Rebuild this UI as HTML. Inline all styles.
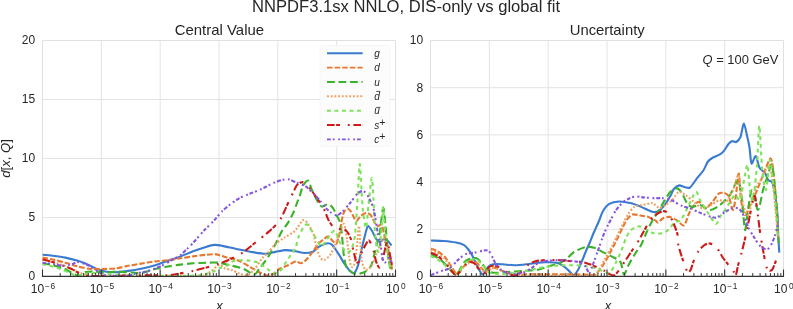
<!DOCTYPE html>
<html><head><meta charset="utf-8"><title>NNPDF3.1sx</title><style>
html,body{margin:0;padding:0;background:#fff;}
svg{display:block;}
text{font-family:"Liberation Sans",sans-serif;fill:#262626;}
.title{font-size:15.6px;}
.sub{font-size:14.4px;}
.tl{font-size:12px;}
.sup{font-size:8.3px;}
.lg{font-size:10px;font-style:italic;}
.lsup{font-size:10.5px;}
.ax{font-size:12.6px;font-style:italic;}
.axx{font-size:13px;font-style:italic;}
.grid{stroke:#e3e3e3;stroke-width:1;}
.spine{fill:none;stroke:#e0e0e0;stroke-width:1;}
.bspine{stroke:#333;stroke-width:1.15;}
.tick{stroke:#333;stroke-width:1.1;}
.mtick{stroke:#383838;stroke-width:1;}
</style></head><body>
<svg width="793" height="309" viewBox="0 0 793 309">
<defs>
<clipPath id="cl"><rect x="42.50" y="40.50" width="353.00" height="237.00"/></clipPath>
<clipPath id="cr"><rect x="430.50" y="40.50" width="353.00" height="237.00"/></clipPath>
</defs>
<rect width="793" height="309" fill="#fff"/>
<line x1="101.33" y1="40.50" x2="101.33" y2="276.50" class="grid"/>
<line x1="160.17" y1="40.50" x2="160.17" y2="276.50" class="grid"/>
<line x1="219.00" y1="40.50" x2="219.00" y2="276.50" class="grid"/>
<line x1="277.83" y1="40.50" x2="277.83" y2="276.50" class="grid"/>
<line x1="336.67" y1="40.50" x2="336.67" y2="276.50" class="grid"/>
<line x1="42.50" y1="217.50" x2="395.50" y2="217.50" class="grid"/>
<line x1="42.50" y1="158.50" x2="395.50" y2="158.50" class="grid"/>
<line x1="42.50" y1="99.50" x2="395.50" y2="99.50" class="grid"/>
<path d="M42.50,276.50 V40.50 H395.50 V276.50" class="spine"/>
<line x1="489.33" y1="40.50" x2="489.33" y2="276.50" class="grid"/>
<line x1="548.17" y1="40.50" x2="548.17" y2="276.50" class="grid"/>
<line x1="607.00" y1="40.50" x2="607.00" y2="276.50" class="grid"/>
<line x1="665.83" y1="40.50" x2="665.83" y2="276.50" class="grid"/>
<line x1="724.67" y1="40.50" x2="724.67" y2="276.50" class="grid"/>
<line x1="430.50" y1="229.30" x2="783.50" y2="229.30" class="grid"/>
<line x1="430.50" y1="182.10" x2="783.50" y2="182.10" class="grid"/>
<line x1="430.50" y1="134.90" x2="783.50" y2="134.90" class="grid"/>
<line x1="430.50" y1="87.70" x2="783.50" y2="87.70" class="grid"/>
<path d="M430.50,276.50 V40.50 H783.50 V276.50" class="spine"/>
<path d="M42.3,254.8 C43.7,254.9 49.5,255.3 52.6,255.7 C55.7,256.1 61.9,256.9 65.3,257.6 C68.7,258.3 74.9,259.9 77.9,260.8 C80.9,261.7 85.6,263.6 88.0,264.6 C90.4,265.6 93.6,267.6 95.6,268.4 C97.6,269.2 101.1,270.4 103.1,270.9 C105.1,271.4 108.7,271.9 110.7,272.1 C112.7,272.3 115.9,272.3 118.3,272.1 C120.7,271.9 125.5,271.3 128.4,270.9 C131.3,270.5 136.1,269.8 139.7,269.0 C143.3,268.2 151.5,266.3 155.3,265.2 C159.1,264.1 164.5,262.0 167.9,260.8 C171.3,259.6 177.1,257.7 180.5,256.4 C183.9,255.1 189.7,252.6 193.1,251.3 C196.5,250.0 202.9,247.8 205.8,246.9 C208.7,246.0 212.3,245.0 214.6,244.9 C216.9,244.8 220.3,245.5 223.4,246.1 C226.5,246.7 234.0,248.5 237.6,249.2 C241.2,249.9 246.6,251.1 250.3,251.7 C254.0,252.3 262.0,253.8 265.4,253.8 C268.8,253.8 272.8,252.4 275.5,251.9 C278.2,251.4 282.9,250.2 285.6,250.1 C288.3,250.0 293.2,250.9 295.7,251.3 C298.2,251.7 302.1,253.0 304.5,253.0 C306.9,253.0 311.6,252.1 313.4,251.4 C315.2,250.7 316.9,248.3 318.0,247.5 C319.1,246.7 320.7,245.7 322.0,245.1 C323.3,244.5 326.7,243.2 328.0,243.2 C329.3,243.2 330.7,243.5 332.0,244.8 C333.3,246.1 336.4,250.7 338.0,253.1 C339.6,255.5 342.5,260.7 344.1,263.1 C345.7,265.5 348.8,269.8 350.1,271.1 C351.4,272.4 353.0,273.9 354.1,273.1 C355.2,272.3 357.0,268.6 358.1,265.1 C359.2,261.6 361.0,251.6 362.1,247.1 C363.2,242.6 365.3,233.8 366.1,231.0 C366.9,228.2 367.3,226.0 368.1,226.0 C368.9,226.0 371.0,229.3 372.1,231.0 C373.2,232.7 375.0,237.5 376.1,239.0 C377.2,240.5 379.1,241.9 380.1,241.9 C381.1,241.9 382.5,239.3 383.5,239.2 C384.5,239.1 386.8,240.2 387.9,241.0 C389.0,241.8 391.0,244.9 391.5,245.5" fill="none" stroke="#3a7bd0" stroke-width="2.1" stroke-linejoin="round" clip-path="url(#cl)"/>
<path d="M42.3,257.6 C43.7,257.9 49.5,258.8 52.6,259.5 C55.7,260.2 61.9,261.8 65.3,262.7 C68.7,263.6 74.5,265.7 77.9,266.5 C81.3,267.3 87.1,268.7 90.5,269.0 C93.9,269.3 99.7,269.1 103.1,269.0 C106.5,268.9 112.4,268.8 115.8,268.4 C119.2,268.0 125.2,266.4 128.4,265.8 C131.6,265.2 136.1,264.5 139.7,263.9 C143.3,263.3 151.5,261.9 155.3,261.4 C159.1,260.9 164.5,260.6 167.9,260.2 C171.3,259.8 177.1,258.8 180.5,258.3 C183.9,257.8 189.7,256.9 193.1,256.4 C196.5,255.9 202.7,255.1 205.8,254.8 C208.9,254.5 213.4,254.1 216.0,254.4 C218.6,254.7 222.1,256.2 225.0,257.0 C227.9,257.8 234.2,258.9 237.6,260.2 C241.0,261.5 247.3,265.4 250.3,267.1 C253.3,268.8 258.2,271.7 260.4,272.8 C262.6,273.9 265.0,275.1 266.7,275.3 C268.4,275.5 271.3,274.8 273.0,274.0 C274.7,273.2 277.3,270.2 279.3,269.0 C281.3,267.8 285.9,266.2 288.1,265.2 C290.3,264.2 294.0,261.7 295.7,261.4 C297.4,261.1 299.5,263.5 300.8,263.3 C302.1,263.1 304.3,261.6 305.8,260.2 C307.3,258.8 310.4,254.8 312.1,252.6 C313.8,250.4 317.0,245.4 318.5,243.7 C320.0,242.0 322.0,240.6 323.3,239.6 C324.6,238.6 326.9,236.2 328.2,236.4 C329.5,236.6 331.9,240.3 333.0,241.3 C334.1,242.3 335.4,244.7 336.3,243.7 C337.2,242.7 338.9,236.6 339.5,234.0 C340.1,231.4 340.7,226.7 341.1,224.3 C341.5,221.9 342.3,217.9 342.7,216.2 C343.1,214.5 343.7,212.3 344.4,211.3 C345.1,210.3 346.7,208.9 347.6,208.9 C348.5,208.9 349.9,210.1 350.8,211.3 C351.7,212.5 353.3,216.5 354.1,217.8 C354.9,219.1 355.6,221.2 356.5,221.0 C357.4,220.8 359.2,217.3 360.5,216.2 C361.8,215.1 364.6,213.1 366.0,213.0 C367.4,212.9 369.5,213.7 370.8,215.2 C372.1,216.7 374.4,222.6 375.4,224.0 C376.4,225.4 377.7,225.9 378.5,226.0 C379.3,226.1 380.8,223.4 381.7,225.0 C382.6,226.6 384.1,234.4 385.0,238.0 C385.9,241.6 387.8,247.3 388.8,251.7 C389.8,256.1 391.9,268.7 392.4,271.3" fill="none" stroke="#e6772e" stroke-width="2.1" stroke-dasharray="5.6 2" stroke-linejoin="round" clip-path="url(#cl)"/>
<path d="M42.3,263.3 C43.7,263.6 50.2,264.7 52.6,265.2 C55.0,265.7 58.5,266.6 60.2,267.1 C61.9,267.6 63.8,268.2 65.3,269.0 C66.8,269.8 70.1,272.0 71.6,272.8 C73.1,273.6 75.5,274.9 76.6,275.3 C77.7,275.7 78.8,276.2 80.0,275.8 C81.2,275.4 83.8,272.7 85.5,272.1 C87.2,271.5 91.2,271.5 93.0,271.5 C94.8,271.5 97.3,272.0 99.3,272.1 C101.3,272.2 105.8,272.6 108.0,272.5 C110.2,272.4 113.8,271.6 115.8,271.5 C117.8,271.4 121.1,272.0 123.3,272.1 C125.5,272.2 129.4,272.4 132.0,272.5 C134.6,272.6 139.5,273.3 142.6,272.8 C145.7,272.3 151.9,269.8 155.3,269.0 C158.7,268.2 164.5,267.1 167.9,266.5 C171.3,265.9 177.1,265.0 180.5,264.6 C183.9,264.2 189.7,263.6 193.1,263.3 C196.5,263.0 202.4,262.8 205.8,262.7 C209.2,262.6 215.2,262.4 218.4,262.7 C221.6,263.0 226.3,264.4 229.7,265.2 C233.1,266.0 240.7,267.7 243.9,269.0 C247.1,270.3 252.0,274.7 254.0,274.7 C256.0,274.7 257.8,270.6 259.1,269.0 C260.4,267.4 262.8,264.6 264.1,262.7 C265.4,260.8 267.7,257.6 269.2,255.1 C270.7,252.6 273.8,247.2 275.5,244.0 C277.2,240.8 280.1,234.3 281.8,231.4 C283.5,228.5 286.6,225.1 288.1,222.6 C289.6,220.1 292.0,215.6 293.2,213.0 C294.4,210.4 296.1,205.4 297.0,203.0 C297.9,200.6 299.2,197.7 300.0,195.3 C300.8,192.9 302.1,187.1 303.2,185.2 C304.3,183.3 307.0,180.0 308.2,180.7 C309.4,181.4 310.7,187.3 312.0,190.2 C313.3,193.1 317.0,200.6 318.3,202.8 C319.6,205.0 320.8,206.4 322.1,206.6 C323.4,206.8 326.9,203.9 328.4,204.1 C329.9,204.3 331.9,206.7 333.0,208.1 C334.1,209.5 335.4,212.9 336.3,214.6 C337.2,216.3 338.9,219.2 339.5,221.0 C340.1,222.8 340.8,226.4 341.1,228.3 C341.4,230.2 341.8,233.5 342.0,235.6 C342.2,237.7 342.5,241.1 342.7,243.7 C342.9,246.3 343.4,252.0 343.8,255.0 C344.2,258.0 345.2,263.9 346.0,266.0 C346.8,268.1 348.7,269.9 350.0,271.0 C351.3,272.1 354.4,273.7 356.0,274.0 C357.6,274.3 360.7,273.4 362.0,273.0 C363.3,272.6 364.5,272.2 365.7,271.3 C366.9,270.4 369.8,268.3 371.0,265.9 C372.2,263.5 373.8,256.6 374.6,253.5 C375.4,250.4 376.5,245.7 377.2,242.8 C377.9,239.9 379.3,235.8 379.9,232.1 C380.5,228.4 381.5,218.1 382.0,215.0 C382.5,211.9 383.0,207.2 383.5,208.5 C384.0,209.8 384.8,218.1 385.5,225.0 C386.2,231.9 388.0,254.4 388.8,260.6 C389.6,266.8 391.1,269.9 391.5,271.3" fill="none" stroke="#3ab22a" stroke-width="2.1" stroke-dasharray="7.8 3.7" stroke-linejoin="round" clip-path="url(#cl)"/>
<path d="M42.3,259.5 C43.7,259.8 49.5,261.1 52.6,262.0 C55.7,262.9 62.3,264.9 65.3,266.0 C68.3,267.1 72.4,269.4 75.0,270.5 C77.6,271.6 82.3,273.8 85.0,274.5 C87.7,275.2 86.3,275.8 95.0,276.0 C103.7,276.2 136.0,276.2 150.0,276.2 C164.0,276.2 192.0,276.6 200.0,276.0 C208.0,275.4 207.5,273.5 210.0,272.0 C212.5,270.5 216.9,265.6 218.9,265.1 C220.9,264.6 223.2,267.7 225.0,268.4 C226.8,269.1 230.6,269.6 232.6,270.3 C234.6,271.0 238.2,273.3 240.2,274.0 C242.2,274.7 245.7,276.0 247.7,275.3 C249.7,274.6 253.4,270.6 255.3,268.4 C257.2,266.2 259.9,261.0 261.6,258.9 C263.3,256.8 266.0,254.6 267.9,252.6 C269.8,250.6 273.3,246.0 275.5,244.0 C277.7,242.0 281.8,239.4 284.3,237.7 C286.8,236.0 292.2,233.4 294.4,231.4 C296.6,229.4 299.6,224.1 300.8,222.6 C302.0,221.1 302.5,220.1 303.3,220.1 C304.1,220.1 305.8,220.8 307.1,222.6 C308.4,224.4 312.2,230.9 313.4,233.9 C314.6,236.9 315.1,241.9 316.0,245.0 C316.9,248.1 318.9,255.1 320.0,257.1 C321.1,259.1 322.7,260.4 324.0,260.1 C325.3,259.8 328.5,257.1 330.0,255.1 C331.5,253.1 333.7,248.1 335.0,245.0 C336.3,241.9 338.8,234.8 340.0,232.0 C341.2,229.2 343.1,222.9 344.0,224.0 C344.9,225.1 346.2,234.9 347.0,240.0 C347.8,245.1 349.3,258.4 350.0,262.0 C350.7,265.6 351.4,267.1 352.1,267.1 C352.8,267.1 354.3,265.6 355.0,262.0 C355.7,258.4 357.0,244.8 357.5,240.0 C358.0,235.2 358.6,225.3 359.0,226.0 C359.4,226.7 360.1,240.2 360.5,245.0 C360.9,249.8 361.3,258.7 362.0,262.0 C362.7,265.3 364.7,269.6 366.0,270.0 C367.3,270.4 370.4,267.7 372.0,265.0 C373.6,262.3 376.5,253.6 378.0,250.0 C379.5,246.4 381.8,238.0 383.0,238.0 C384.2,238.0 385.9,246.4 387.0,250.0 C388.1,253.6 390.5,263.0 391.0,265.0" fill="none" stroke="#efa160" stroke-width="2.1" stroke-dasharray="1.9 1.8" stroke-linejoin="round" clip-path="url(#cl)"/>
<path d="M42.3,264.3 C43.7,264.6 50.0,265.8 52.6,266.5 C55.2,267.2 59.7,268.6 62.0,269.5 C64.3,270.4 68.1,272.2 70.0,273.0 C71.9,273.8 74.0,275.4 76.0,275.5 C78.0,275.6 82.5,274.3 85.0,274.0 C87.5,273.7 92.3,273.0 95.0,273.0 C97.7,273.0 101.7,273.7 105.0,274.0 C108.3,274.3 115.3,274.8 120.0,275.0 C124.7,275.2 134.7,275.4 140.0,275.5 C145.3,275.6 154.0,275.8 160.0,275.8 C166.0,275.8 179.7,275.9 185.0,275.8 C190.3,275.7 197.2,275.5 200.0,275.3 C202.8,275.1 204.0,274.5 205.8,274.0 C207.6,273.5 211.3,272.3 213.3,271.5 C215.3,270.7 218.7,268.6 220.9,267.7 C223.1,266.8 228.1,265.4 229.7,264.6 C231.3,263.8 231.0,262.0 232.6,261.4 C234.2,260.8 239.0,260.3 241.4,260.2 C243.8,260.1 248.1,260.5 250.3,260.8 C252.5,261.1 256.0,261.9 257.8,262.7 C259.6,263.5 262.6,265.5 264.1,266.5 C265.6,267.5 267.9,269.4 269.2,270.3 C270.5,271.2 273.0,273.2 274.2,273.4 C275.4,273.6 277.0,272.7 278.0,272.1 C279.0,271.5 280.8,270.3 281.8,269.0 C282.8,267.7 284.4,264.6 285.6,262.7 C286.8,260.8 289.4,257.1 290.7,255.1 C292.0,253.1 294.7,249.8 295.7,247.5 C296.7,245.2 297.2,240.4 298.2,237.7 C299.2,235.0 302.1,229.4 303.3,227.6 C304.5,225.8 305.9,224.0 307.1,224.5 C308.3,225.0 310.6,229.0 312.1,231.4 C313.6,233.8 317.1,240.9 318.4,242.8 C319.7,244.7 320.7,246.6 322.0,246.0 C323.3,245.4 326.3,240.0 328.0,238.0 C329.7,236.0 333.1,230.0 334.7,230.7 C336.3,231.4 338.5,240.2 340.0,243.0 C341.5,245.8 344.5,251.1 346.0,252.0 C347.5,252.9 349.8,252.3 351.0,250.0 C352.2,247.7 354.1,242.3 355.0,235.0 C355.9,227.7 357.2,204.5 357.8,195.0 C358.4,185.5 359.2,164.7 359.7,164.0 C360.2,163.3 361.1,183.7 361.5,190.0 C361.9,196.3 362.4,205.9 363.0,211.0 C363.6,216.1 365.3,228.8 366.0,228.0 C366.7,227.2 367.7,211.7 368.5,205.0 C369.3,198.3 371.0,178.7 371.7,178.0 C372.4,177.3 373.1,192.8 373.5,200.0 C373.9,207.2 374.4,225.1 375.0,232.0 C375.6,238.9 377.2,251.6 378.0,252.0 C378.8,252.4 380.3,241.0 381.0,235.0 C381.7,229.0 382.6,207.7 383.1,207.0 C383.6,206.3 384.3,223.2 385.0,230.0 C385.7,236.8 387.1,252.7 388.0,258.0 C388.9,263.3 391.0,268.4 391.5,270.0" fill="none" stroke="#7ee35a" stroke-width="2.1" stroke-dasharray="3.9 3.6" stroke-linejoin="round" clip-path="url(#cl)"/>
<path d="M42.3,259.5 C43.7,259.8 49.5,261.1 52.6,262.0 C55.7,262.9 62.6,265.5 65.3,266.5 C68.0,267.5 71.1,268.8 72.8,269.6 C74.5,270.4 76.7,272.0 77.9,272.8 C79.1,273.6 80.1,274.9 81.7,275.3 C83.3,275.7 87.6,275.9 90.0,276.0 C92.4,276.1 94.7,276.1 100.0,276.0 C105.3,275.9 123.5,275.6 130.0,275.5 C136.5,275.4 143.8,275.3 148.9,275.3 C154.0,275.3 163.7,275.6 167.9,275.3 C172.1,275.0 177.1,274.0 180.5,273.4 C183.9,272.8 189.7,271.7 193.1,270.9 C196.5,270.1 202.4,268.6 205.8,267.7 C209.2,266.8 215.2,265.0 218.4,263.9 C221.6,262.8 226.5,261.0 229.7,259.5 C232.9,258.0 239.1,255.0 242.7,252.6 C246.3,250.2 253.1,244.3 256.6,241.5 C260.1,238.7 266.3,233.9 269.2,231.4 C272.1,228.9 276.2,224.8 278.0,222.6 C279.8,220.4 281.1,218.2 282.6,215.2 C284.1,212.2 287.9,203.3 289.3,200.3 C290.7,197.3 292.1,194.7 293.1,192.7 C294.1,190.7 295.9,186.5 296.9,185.2 C297.9,183.9 299.7,182.9 300.7,182.6 C301.7,182.3 303.1,181.7 304.4,182.6 C305.7,183.5 309.3,187.7 310.8,189.6 C312.3,191.5 314.5,194.6 315.8,196.5 C317.1,198.4 319.7,202.1 320.9,204.1 C322.1,206.1 324.0,209.3 325.0,211.3 C326.0,213.3 327.1,217.3 328.2,219.4 C329.3,221.5 331.7,225.4 333.0,226.7 C334.3,228.0 336.5,228.7 338.0,229.0 C339.5,229.3 343.1,228.6 344.4,229.1 C345.7,229.6 346.7,231.1 347.6,232.4 C348.5,233.7 350.1,236.9 350.8,238.8 C351.5,240.7 351.8,243.9 352.5,246.9 C353.2,249.9 355.3,259.1 356.1,261.1 C356.9,263.1 357.7,263.2 358.5,262.0 C359.3,260.8 361.0,254.3 362.0,252.0 C363.0,249.7 364.8,246.1 365.7,244.6 C366.6,243.1 368.1,240.0 369.0,240.5 C369.9,241.0 371.8,245.2 372.8,248.1 C373.8,251.0 375.5,259.8 376.4,262.4 C377.3,265.0 379.0,268.3 379.9,267.7 C380.8,267.1 382.2,261.1 383.0,258.0 C383.8,254.9 385.5,246.9 386.1,244.6 C386.7,242.3 387.0,239.6 387.5,241.0 C388.0,242.4 389.3,251.4 390.0,255.0 C390.7,258.6 392.2,266.3 392.5,268.0" fill="none" stroke="#cc1a1a" stroke-width="2.1" stroke-dasharray="7.6 1.5 3.9 7.8 1.9 3.7" stroke-linejoin="round" clip-path="url(#cl)"/>
<path d="M42.3,262.7 C43.7,262.9 49.9,263.5 52.6,263.9 C55.3,264.3 60.0,265.8 62.7,265.8 C65.4,265.8 70.8,264.4 72.8,263.9 C74.8,263.4 75.9,261.8 77.9,262.0 C79.9,262.2 85.8,264.3 88.0,265.2 C90.2,266.1 92.6,268.0 94.3,269.0 C96.0,270.0 99.1,272.0 100.6,272.8 C102.1,273.6 103.8,274.9 105.7,275.3 C107.6,275.7 112.0,275.9 115.0,276.0 C118.0,276.1 125.2,276.1 128.0,275.8 C130.8,275.5 133.9,273.9 136.0,273.4 C138.1,272.9 141.8,272.5 144.0,272.0 C146.2,271.5 150.2,270.3 152.5,269.5 C154.8,268.7 159.0,267.0 161.6,265.8 C164.2,264.6 169.2,261.6 171.7,260.2 C174.2,258.8 178.5,256.6 180.5,255.1 C182.5,253.6 185.3,250.6 187.0,249.0 C188.7,247.4 190.8,245.4 193.0,243.0 C195.2,240.6 200.9,233.9 203.7,230.9 C206.5,227.9 211.9,222.8 214.3,220.2 C216.7,217.6 219.7,213.6 221.9,211.4 C224.1,209.2 228.6,205.6 231.0,203.8 C233.4,202.0 237.8,199.0 240.2,197.7 C242.6,196.4 246.6,195.0 249.3,193.9 C252.0,192.8 257.2,191.0 260.3,189.6 C263.4,188.2 269.9,184.6 272.9,183.3 C275.9,182.0 280.8,180.3 283.0,179.8 C285.2,179.3 287.3,179.0 289.3,179.5 C291.3,180.0 295.9,182.4 298.1,183.3 C300.3,184.2 303.7,185.1 305.7,186.4 C307.7,187.7 311.3,191.4 313.3,193.4 C315.3,195.4 319.2,199.6 320.9,201.6 C322.6,203.6 324.6,206.6 326.0,208.1 C327.4,209.6 329.9,211.9 331.4,212.9 C332.9,213.9 335.6,215.6 337.1,215.4 C338.6,215.2 341.0,212.9 342.7,211.3 C344.4,209.7 348.1,205.4 350.0,203.1 C351.9,200.8 355.5,195.7 357.1,194.1 C358.7,192.5 360.9,191.2 362.1,191.1 C363.3,191.0 365.0,191.9 366.1,193.1 C367.2,194.3 369.0,197.7 370.1,200.1 C371.2,202.5 373.0,206.4 374.1,211.1 C375.2,215.8 377.2,230.3 378.1,235.0 C379.0,239.7 380.2,243.2 380.8,246.4 C381.4,249.6 382.0,256.7 382.6,258.8 C383.2,260.9 384.4,262.5 385.2,262.4 C386.0,262.3 388.0,258.0 388.8,257.9 C389.6,257.8 391.1,261.5 391.5,262.0" fill="none" stroke="#8455e0" stroke-width="2.1" stroke-dasharray="3.8 1.9 1.9 3.6 1.9 1.9" stroke-linejoin="round" clip-path="url(#cl)"/>
<path d="M430.8,240.5 C432.5,240.6 440.1,240.7 443.5,241.0 C446.9,241.3 453.3,242.0 456.0,242.5 C458.7,243.0 462.0,244.0 463.7,244.9 C465.4,245.8 467.3,248.1 468.4,249.5 C469.5,250.9 471.3,253.8 472.3,255.7 C473.3,257.6 475.1,261.4 476.1,263.5 C477.1,265.6 479.2,269.8 480.0,271.3 C480.8,272.8 481.6,274.4 482.3,274.4 C483.0,274.4 484.7,272.3 485.5,271.3 C486.3,270.3 487.6,267.5 488.6,266.6 C489.6,265.7 491.3,264.6 493.2,264.3 C495.1,264.0 499.6,264.2 502.5,264.3 C505.4,264.4 511.3,265.3 515.0,265.2 C518.7,265.1 526.3,264.2 530.4,263.8 C534.5,263.4 541.9,262.4 545.6,262.3 C549.3,262.2 555.2,262.3 557.8,263.0 C560.4,263.7 563.8,266.4 565.4,267.6 C567.0,268.8 568.9,271.0 570.0,272.0 C571.1,273.0 572.5,275.3 573.6,275.0 C574.7,274.7 576.9,271.9 578.0,270.0 C579.1,268.1 580.9,263.5 582.0,261.0 C583.1,258.5 584.9,253.5 586.0,251.0 C587.1,248.5 588.9,244.7 590.0,242.0 C591.1,239.3 593.2,233.9 594.5,231.0 C595.8,228.1 598.3,222.6 599.4,220.0 C600.5,217.4 601.6,213.3 602.9,211.2 C604.2,209.1 607.1,205.2 609.3,203.9 C611.5,202.6 616.3,201.6 619.1,201.5 C621.9,201.4 627.4,202.4 630.4,203.1 C633.4,203.8 638.7,205.9 641.7,207.1 C644.7,208.3 650.7,211.6 653.1,212.0 C655.5,212.4 657.8,211.6 659.5,210.4 C661.2,209.2 664.5,205.2 666.0,203.1 C667.5,201.0 669.8,196.9 670.9,195.0 C672.0,193.1 672.9,190.0 674.0,188.7 C675.1,187.4 677.8,185.6 679.2,185.4 C680.6,185.2 682.9,186.7 684.3,187.0 C685.7,187.3 688.3,188.6 690.0,187.5 C691.7,186.4 694.9,180.9 696.7,178.6 C698.5,176.3 702.0,172.5 703.5,170.2 C705.0,167.9 706.7,163.2 708.0,161.5 C709.3,159.8 711.5,158.4 713.0,157.5 C714.5,156.6 718.1,155.4 719.5,154.6 C720.9,153.8 722.5,152.7 723.7,151.2 C724.9,149.7 727.6,145.0 728.7,143.7 C729.8,142.4 731.1,141.3 732.1,141.1 C733.1,140.9 735.2,142.6 736.3,142.0 C737.4,141.4 739.5,139.4 740.5,136.9 C741.5,134.4 743.0,123.3 743.9,123.5 C744.8,123.7 746.8,135.0 747.6,138.3 C748.4,141.6 749.1,144.6 749.6,148.0 C750.1,151.4 750.7,162.4 751.5,163.5 C752.3,164.6 754.6,155.5 755.7,156.0 C756.8,156.5 758.1,165.1 759.4,167.4 C760.7,169.7 764.0,171.6 765.2,173.3 C766.4,175.0 767.2,178.8 768.1,180.0 C769.0,181.2 771.2,180.8 772.0,182.0 C772.8,183.2 773.4,186.3 773.9,188.8 C774.4,191.3 775.4,196.9 775.9,200.4 C776.4,203.9 777.2,210.4 777.5,215.0 C777.8,219.6 778.0,230.0 778.2,235.0 C778.4,240.0 779.2,250.3 779.3,252.6" fill="none" stroke="#3a7bd0" stroke-width="2.1" stroke-linejoin="round" clip-path="url(#cr)"/>
<path d="M430.8,248.8 C431.7,249.1 435.4,250.0 437.3,251.1 C439.2,252.2 443.2,255.2 445.1,257.3 C447.0,259.4 449.8,264.4 451.3,266.6 C452.8,268.8 455.0,272.8 456.0,273.6 C457.0,274.4 458.0,273.7 459.0,272.8 C460.0,271.9 462.4,268.0 463.7,266.6 C465.0,265.2 467.2,262.7 468.4,262.0 C469.6,261.3 471.8,261.0 473.0,261.2 C474.2,261.4 476.5,262.5 477.7,263.5 C478.9,264.5 481.3,267.8 482.3,268.9 C483.3,270.0 484.5,272.0 485.5,272.0 C486.5,272.0 488.8,269.4 490.1,268.9 C491.4,268.4 493.0,267.6 495.0,268.0 C497.0,268.4 502.3,271.1 505.0,272.0 C507.7,272.9 511.7,274.2 515.0,274.5 C518.3,274.8 524.0,274.3 530.0,274.3 C536.0,274.3 552.7,274.3 560.0,274.3 C567.3,274.3 581.0,274.4 585.0,274.5 C589.0,274.6 588.5,275.3 590.0,275.2 C591.5,275.1 594.2,275.4 596.0,274.0 C597.8,272.6 601.3,267.8 603.3,264.7 C605.3,261.6 608.9,255.0 611.0,251.1 C613.1,247.2 617.3,238.6 618.8,235.5 C620.3,232.4 621.5,230.1 622.5,228.0 C623.5,225.9 625.3,221.8 626.6,220.0 C627.9,218.2 630.8,215.1 632.6,214.5 C634.4,213.9 638.0,215.1 640.1,215.4 C642.2,215.7 646.5,216.3 648.5,217.0 C650.5,217.7 654.0,219.7 655.3,220.4 C656.6,221.1 656.9,222.8 657.9,222.5 C658.9,222.2 661.3,219.2 662.8,218.5 C664.3,217.8 667.4,216.6 669.3,216.9 C671.2,217.2 675.2,219.3 677.1,220.4 C679.0,221.5 682.3,226.4 683.9,225.5 C685.5,224.6 687.6,216.4 688.9,213.7 C690.2,211.0 692.7,206.9 694.0,205.3 C695.3,203.7 697.4,201.6 699.0,201.9 C700.6,202.2 704.0,207.8 705.8,207.8 C707.6,207.8 710.8,203.8 712.5,201.9 C714.2,200.0 717.1,194.9 718.6,193.7 C720.1,192.5 722.4,192.6 723.7,192.9 C725.0,193.2 727.5,193.9 728.7,196.2 C729.9,198.5 732.0,210.2 733.0,210.0 C734.0,209.8 735.2,199.9 736.0,195.0 C736.8,190.1 738.1,172.8 738.8,173.5 C739.5,174.2 740.2,194.5 741.0,200.0 C741.8,205.5 743.8,214.3 745.0,215.0 C746.2,215.7 748.7,207.7 750.0,205.0 C751.3,202.3 753.3,198.7 755.0,195.0 C756.7,191.3 760.3,181.8 762.4,176.9 C764.5,172.0 769.2,157.9 770.8,158.4 C772.4,158.9 773.5,174.8 774.2,180.3 C774.9,185.8 775.6,194.0 776.0,200.0 C776.4,206.0 777.2,219.7 777.5,225.0 C777.8,230.3 778.2,238.0 778.3,240.0" fill="none" stroke="#e6772e" stroke-width="2.1" stroke-dasharray="5.6 2" stroke-linejoin="round" clip-path="url(#cr)"/>
<path d="M430.8,254.2 C432.1,254.9 438.1,257.8 440.4,259.6 C442.7,261.4 446.3,265.5 448.2,267.4 C450.1,269.3 453.0,273.1 454.4,273.6 C455.8,274.1 457.8,272.8 459.0,271.3 C460.2,269.8 462.2,264.4 463.7,262.7 C465.2,261.0 468.2,259.4 469.9,258.8 C471.6,258.2 474.6,257.7 476.1,258.1 C477.6,258.5 479.5,260.7 480.8,262.0 C482.1,263.3 484.3,266.9 485.5,268.2 C486.7,269.5 488.7,271.4 490.1,272.0 C491.5,272.6 494.2,272.8 496.3,272.8 C498.4,272.8 503.1,272.2 505.6,272.0 C508.1,271.8 511.7,271.7 515.0,271.5 C518.3,271.3 526.9,270.7 530.0,270.5 C533.1,270.3 536.0,270.2 538.0,269.8 C540.0,269.4 543.1,268.1 545.0,267.5 C546.9,266.9 550.5,265.8 552.5,265.2 C554.5,264.6 558.1,263.9 560.0,263.0 C561.9,262.1 565.1,260.0 567.0,258.5 C568.9,257.0 571.6,253.5 574.0,252.0 C576.4,250.5 582.5,247.7 585.2,247.1 C587.9,246.5 591.9,247.1 594.3,247.8 C596.7,248.5 601.0,251.2 603.4,252.4 C605.8,253.6 610.8,256.0 612.5,256.9 C614.2,257.8 615.1,258.0 616.2,258.8 C617.3,259.6 619.9,260.6 620.9,262.7 C621.9,264.8 623.0,274.1 624.0,274.4 C625.0,274.7 627.2,267.8 628.6,265.1 C630.0,262.4 633.1,256.9 634.8,254.2 C636.5,251.5 639.5,247.8 641.1,244.9 C642.7,242.0 645.0,235.6 646.6,232.2 C648.2,228.8 651.4,222.3 653.1,219.3 C654.8,216.3 658.1,211.9 659.5,209.6 C660.9,207.3 662.2,204.3 663.7,201.9 C665.2,199.5 668.6,193.6 670.4,191.8 C672.2,190.0 675.5,188.2 677.1,188.4 C678.7,188.6 680.9,191.5 682.2,193.5 C683.5,195.5 685.9,201.8 687.2,203.6 C688.5,205.4 690.6,206.7 692.3,206.9 C694.0,207.1 697.6,204.6 700.0,205.0 C702.4,205.4 707.3,210.0 710.0,210.0 C712.7,210.0 717.3,207.0 720.0,205.0 C722.7,203.0 727.6,198.3 730.0,195.0 C732.4,191.7 736.4,179.3 738.0,180.0 C739.6,180.7 741.1,193.3 742.0,200.0 C742.9,206.7 744.2,228.7 745.0,230.0 C745.8,231.3 747.1,215.3 748.0,210.0 C748.9,204.7 750.7,190.0 752.0,190.0 C753.3,190.0 756.5,210.0 758.0,210.0 C759.5,210.0 761.7,194.7 763.0,190.0 C764.3,185.3 766.8,178.3 768.0,175.0 C769.2,171.7 770.9,161.7 772.0,165.0 C773.1,168.3 775.2,190.5 776.0,200.0 C776.8,209.5 777.8,230.3 778.2,236.0 C778.6,241.7 778.7,242.1 778.8,243.0" fill="none" stroke="#3ab22a" stroke-width="2.1" stroke-dasharray="7.8 3.7" stroke-linejoin="round" clip-path="url(#cr)"/>
<path d="M430.8,250.0 C431.6,250.4 435.1,251.8 437.0,253.0 C438.9,254.2 443.1,257.0 445.0,259.0 C446.9,261.0 449.7,266.0 451.0,268.0 C452.3,270.0 453.9,273.5 455.0,274.0 C456.1,274.5 457.8,273.1 459.0,272.0 C460.2,270.9 462.7,267.2 464.0,266.0 C465.3,264.8 467.7,263.4 469.0,263.0 C470.3,262.6 472.7,262.6 474.0,263.0 C475.3,263.4 477.7,264.8 479.0,266.0 C480.3,267.2 482.7,271.5 484.0,272.0 C485.3,272.5 487.5,270.5 489.0,270.0 C490.5,269.5 492.9,267.7 495.0,268.0 C497.1,268.3 501.7,271.0 505.0,272.0 C508.3,273.0 512.7,275.0 520.0,275.5 C527.3,276.0 550.4,276.0 560.0,276.0 C569.6,276.0 586.9,276.4 592.0,275.8 C597.1,275.2 596.3,273.8 598.0,271.5 C599.7,269.2 603.1,262.3 605.0,258.8 C606.9,255.3 610.5,249.0 612.5,245.2 C614.5,241.4 618.5,233.1 620.0,230.0 C621.5,226.9 622.9,224.2 624.0,222.0 C625.1,219.8 627.1,215.5 628.5,213.5 C629.9,211.5 632.8,208.0 634.3,206.9 C635.8,205.8 638.0,205.7 640.1,205.3 C642.2,204.9 648.5,203.9 650.2,203.6 C651.9,203.3 651.9,202.5 653.1,203.1 C654.3,203.7 657.8,207.8 659.5,208.0 C661.2,208.2 664.3,205.8 666.0,204.7 C667.7,203.6 670.8,201.6 672.5,199.9 C674.2,198.2 677.1,192.4 678.8,191.8 C680.5,191.2 683.6,193.9 685.6,195.2 C687.6,196.5 691.8,200.1 694.0,201.9 C696.2,203.7 700.2,208.1 702.4,208.6 C704.6,209.1 708.6,206.4 710.8,205.3 C713.0,204.2 717.2,200.7 719.2,200.2 C721.2,199.7 724.2,203.3 726.0,201.9 C727.8,200.5 731.3,193.6 733.0,190.0 C734.7,186.4 737.3,173.7 738.5,175.0 C739.7,176.3 740.7,194.7 742.0,200.0 C743.3,205.3 746.3,216.3 748.0,215.0 C749.7,213.7 753.1,194.9 755.0,190.0 C756.9,185.1 760.1,181.3 762.0,178.0 C763.9,174.7 767.5,164.1 769.0,165.0 C770.5,165.9 772.1,178.3 773.0,185.0 C773.9,191.7 775.3,207.9 776.0,215.0 C776.7,222.1 777.7,234.9 778.0,238.0" fill="none" stroke="#efa160" stroke-width="2.1" stroke-dasharray="1.9 1.8" stroke-linejoin="round" clip-path="url(#cr)"/>
<path d="M430.8,256.0 C432.0,256.7 437.7,259.4 440.0,261.0 C442.3,262.6 446.1,266.3 448.0,268.0 C449.9,269.7 452.5,273.5 454.0,274.0 C455.5,274.5 457.7,273.3 459.0,272.0 C460.3,270.7 462.5,265.6 464.0,264.0 C465.5,262.4 468.4,260.6 470.0,260.0 C471.6,259.4 474.5,259.1 476.0,259.5 C477.5,259.9 479.7,261.7 481.0,263.0 C482.3,264.3 484.8,267.7 486.0,269.0 C487.2,270.3 488.1,272.3 490.0,273.0 C491.9,273.7 496.7,274.0 500.0,274.0 C503.3,274.0 511.0,273.5 515.0,273.0 C519.0,272.5 525.9,270.8 530.0,270.0 C534.1,269.2 541.5,267.4 545.6,266.8 C549.7,266.2 556.7,265.5 560.8,265.3 C564.9,265.1 572.7,265.2 576.0,265.3 C579.3,265.4 582.7,265.7 585.2,266.1 C587.7,266.5 592.4,267.2 595.0,268.0 C597.6,268.8 603.0,271.4 605.0,272.0 C607.0,272.6 608.5,274.1 610.0,272.8 C611.5,271.5 614.5,265.3 616.2,262.0 C617.9,258.7 621.1,251.2 622.4,248.0 C623.7,244.8 624.9,240.3 626.0,238.0 C627.1,235.7 628.9,232.1 630.4,230.6 C631.9,229.1 635.2,227.0 636.9,226.6 C638.6,226.2 641.1,226.5 643.3,227.4 C645.5,228.3 650.5,232.3 653.1,233.1 C655.7,233.9 660.6,233.6 662.8,233.1 C665.0,232.6 667.7,230.5 669.3,229.0 C670.9,227.5 673.5,223.1 675.0,222.0 C676.5,220.9 678.9,222.2 680.5,220.4 C682.1,218.6 685.2,212.4 687.2,208.6 C689.2,204.8 694.0,192.9 695.7,191.8 C697.4,190.7 698.4,197.3 700.0,200.0 C701.6,202.7 705.3,208.8 707.4,212.0 C709.5,215.2 714.1,223.3 715.9,223.8 C717.7,224.3 719.6,217.4 720.9,215.4 C722.2,213.4 724.1,211.3 726.0,208.6 C727.9,205.9 733.1,196.1 735.0,195.0 C736.9,193.9 738.7,202.7 740.0,200.0 C741.3,197.3 744.0,179.7 745.0,175.0 C746.0,170.3 746.8,163.0 747.5,165.0 C748.2,167.0 749.3,185.3 750.0,190.0 C750.7,194.7 752.1,203.3 753.0,200.0 C753.9,196.7 756.2,174.9 757.0,165.0 C757.8,155.1 758.6,125.1 759.3,125.7 C760.0,126.3 761.3,160.8 762.2,169.4 C763.1,178.0 765.0,191.3 766.0,190.0 C767.0,188.7 768.9,160.0 770.0,160.0 C771.1,160.0 773.1,182.7 774.0,190.0 C774.9,197.3 776.0,208.9 776.5,215.0 C777.0,221.1 777.6,233.2 777.8,236.0" fill="none" stroke="#7ee35a" stroke-width="2.1" stroke-dasharray="3.9 3.6" stroke-linejoin="round" clip-path="url(#cr)"/>
<path d="M430.8,252.6 C431.7,253.0 435.4,254.4 437.3,255.7 C439.2,257.0 443.2,260.7 445.1,262.7 C447.0,264.7 450.0,268.9 451.3,270.5 C452.6,272.1 454.0,274.6 455.2,274.7 C456.4,274.8 459.3,272.6 460.6,271.3 C461.9,270.0 464.1,266.3 465.3,265.1 C466.5,263.9 468.7,262.2 469.9,262.0 C471.1,261.8 473.4,262.5 474.6,263.5 C475.8,264.5 478.0,268.2 479.2,269.7 C480.4,271.2 482.6,274.7 483.9,274.4 C485.2,274.1 487.4,268.5 488.6,267.4 C489.8,266.3 491.8,265.8 493.2,265.8 C494.6,265.8 497.7,266.7 499.4,267.4 C501.1,268.1 503.9,270.3 505.6,271.3 C507.3,272.3 510.4,274.6 511.9,275.1 C513.4,275.6 515.8,275.4 517.0,275.0 C518.2,274.6 519.8,273.3 521.2,272.0 C522.6,270.7 525.9,266.5 527.8,265.1 C529.7,263.7 533.0,261.9 535.5,261.2 C538.0,260.5 543.3,260.2 546.4,260.1 C549.5,260.0 555.5,260.0 558.8,260.1 C562.1,260.2 568.1,260.9 571.2,261.2 C574.3,261.5 579.6,261.6 582.1,262.0 C584.6,262.4 587.8,263.6 589.9,264.3 C592.0,265.0 595.7,266.6 597.6,267.4 C599.5,268.2 602.2,269.6 603.9,270.5 C605.6,271.4 608.7,273.8 610.1,274.4 C611.5,275.0 613.5,275.7 614.7,275.1 C615.9,274.5 617.9,271.7 619.3,269.7 C620.7,267.7 623.8,262.9 625.5,260.4 C627.2,257.9 630.2,253.3 631.7,251.1 C633.2,248.9 635.4,246.1 636.9,243.6 C638.4,241.1 641.6,235.2 643.3,232.2 C645.0,229.2 648.1,223.3 649.8,220.9 C651.5,218.5 654.6,215.7 656.3,214.4 C658.0,213.1 661.3,211.4 662.8,211.2 C664.3,211.0 666.3,211.5 667.6,212.8 C668.9,214.1 671.2,218.1 672.5,220.9 C673.8,223.7 676.6,230.7 677.4,233.9 C678.2,237.1 677.6,241.4 678.3,244.9 C679.0,248.4 681.8,256.8 683.0,260.4 C684.2,264.0 686.6,270.8 687.6,272.0 C688.6,273.2 689.9,271.2 690.7,269.7 C691.5,268.2 692.9,262.9 693.9,260.4 C694.9,257.9 697.1,253.2 698.5,251.1 C699.9,249.0 703.1,245.9 704.7,244.9 C706.3,243.9 708.6,243.3 710.2,243.6 C711.8,243.9 714.7,245.4 716.4,247.2 C718.1,249.0 721.1,255.0 722.6,257.3 C724.1,259.6 726.5,262.4 728.0,264.3 C729.5,266.2 732.5,269.9 733.5,271.3 C734.5,272.7 735.2,275.9 735.8,275.1 C736.4,274.3 737.4,267.9 738.1,265.1 C738.8,262.3 740.4,257.3 741.2,254.2 C742.0,251.1 743.5,245.2 744.3,241.8 C745.1,238.4 746.4,232.7 747.2,228.7 C748.0,224.7 749.8,215.6 750.6,211.8 C751.4,208.0 752.5,202.1 753.1,200.0 C753.7,197.9 754.5,195.3 755.0,196.0 C755.5,196.7 756.0,201.8 756.5,205.0 C757.0,208.2 758.0,216.4 758.5,220.0 C759.0,223.6 759.4,228.0 760.0,232.0 C760.6,236.0 762.2,245.6 763.0,250.0 C763.8,254.4 765.3,262.3 766.0,265.0 C766.7,267.7 767.2,269.5 768.0,270.2 C768.8,270.9 771.0,271.1 772.0,270.0 C773.0,268.9 774.6,264.2 775.5,262.0 C776.4,259.8 778.6,254.6 779.1,253.5" fill="none" stroke="#cc1a1a" stroke-width="2.1" stroke-dasharray="7.6 1.5 3.9 7.8 1.9 3.7" stroke-linejoin="round" clip-path="url(#cr)"/>
<path d="M430.8,275.1 C432.1,274.6 437.9,272.2 440.4,271.3 C442.9,270.4 447.4,269.7 449.7,268.2 C452.0,266.7 455.4,262.3 457.5,260.4 C459.6,258.5 463.0,255.2 465.3,254.2 C467.6,253.2 471.9,253.1 474.6,252.6 C477.3,252.1 483.4,250.3 485.5,250.3 C487.6,250.3 488.9,251.0 490.1,252.6 C491.3,254.2 493.3,259.7 494.8,262.0 C496.3,264.3 499.3,268.3 501.0,269.7 C502.7,271.1 505.3,272.2 507.2,272.8 C509.1,273.4 512.6,274.1 515.0,274.0 C517.4,273.9 522.7,272.9 525.0,272.0 C527.3,271.1 530.5,268.7 532.4,267.4 C534.3,266.1 537.3,263.2 539.5,262.3 C541.7,261.4 545.9,261.0 548.7,260.7 C551.5,260.4 557.2,260.2 560.8,260.3 C564.4,260.4 572.7,260.7 576.0,261.5 C579.3,262.3 583.5,264.5 585.2,266.1 C586.9,267.7 588.3,273.3 589.1,273.6 C589.9,273.9 590.9,269.4 591.5,268.0 C592.1,266.6 592.7,265.2 593.5,263.0 C594.3,260.8 596.3,255.2 597.6,251.5 C598.9,247.8 602.0,238.8 603.3,235.5 C604.6,232.2 606.0,229.1 607.0,227.0 C608.0,224.9 609.8,221.7 611.0,219.5 C612.2,217.3 614.3,212.7 615.8,210.5 C617.3,208.3 620.7,204.3 622.5,202.7 C624.3,201.1 627.4,199.3 629.2,198.5 C631.0,197.7 634.1,196.5 636.0,196.4 C637.9,196.3 640.8,197.2 643.3,197.4 C645.8,197.6 652.1,198.1 654.7,198.2 C657.3,198.3 660.6,198.0 662.8,198.2 C665.0,198.4 668.5,199.0 670.9,199.9 C673.3,200.8 677.9,204.1 680.5,205.3 C683.1,206.5 687.8,207.5 690.6,208.6 C693.4,209.7 698.5,212.3 701.8,213.5 C705.1,214.7 712.2,217.9 715.3,217.7 C718.4,217.5 722.9,213.1 725.4,211.8 C727.9,210.5 731.8,207.8 733.8,207.6 C735.8,207.4 738.9,208.5 740.5,210.2 C742.1,211.9 744.5,217.8 745.6,220.3 C746.7,222.8 747.8,226.5 748.9,228.7 C750.0,230.9 752.7,235.0 754.0,237.1 C755.3,239.2 757.6,243.1 759.0,244.7 C760.4,246.3 763.1,248.4 764.5,248.8 C765.9,249.2 767.9,249.3 769.2,248.0 C770.5,246.7 773.0,240.8 773.9,238.7 C774.8,236.6 775.4,233.8 775.9,232.0 C776.4,230.2 777.7,225.9 778.0,225.0" fill="none" stroke="#8455e0" stroke-width="2.1" stroke-dasharray="3.8 1.9 1.9 3.6 1.9 1.9" stroke-linejoin="round" clip-path="url(#cr)"/>
<line x1="41.90" y1="276.40" x2="396.10" y2="276.40" class="bspine"/>
<line x1="42.50" y1="276.50" x2="42.50" y2="269.50" class="tick"/>
<line x1="60.21" y1="276.50" x2="60.21" y2="273.00" class="mtick"/>
<line x1="70.57" y1="276.50" x2="70.57" y2="273.00" class="mtick"/>
<line x1="77.92" y1="276.50" x2="77.92" y2="273.00" class="mtick"/>
<line x1="83.62" y1="276.50" x2="83.62" y2="273.00" class="mtick"/>
<line x1="88.28" y1="276.50" x2="88.28" y2="273.00" class="mtick"/>
<line x1="92.22" y1="276.50" x2="92.22" y2="273.00" class="mtick"/>
<line x1="95.63" y1="276.50" x2="95.63" y2="273.00" class="mtick"/>
<line x1="98.64" y1="276.50" x2="98.64" y2="273.00" class="mtick"/>
<line x1="101.33" y1="276.50" x2="101.33" y2="269.50" class="tick"/>
<line x1="119.04" y1="276.50" x2="119.04" y2="273.00" class="mtick"/>
<line x1="129.40" y1="276.50" x2="129.40" y2="273.00" class="mtick"/>
<line x1="136.75" y1="276.50" x2="136.75" y2="273.00" class="mtick"/>
<line x1="142.46" y1="276.50" x2="142.46" y2="273.00" class="mtick"/>
<line x1="147.11" y1="276.50" x2="147.11" y2="273.00" class="mtick"/>
<line x1="151.05" y1="276.50" x2="151.05" y2="273.00" class="mtick"/>
<line x1="154.47" y1="276.50" x2="154.47" y2="273.00" class="mtick"/>
<line x1="157.47" y1="276.50" x2="157.47" y2="273.00" class="mtick"/>
<line x1="160.17" y1="276.50" x2="160.17" y2="269.50" class="tick"/>
<line x1="177.88" y1="276.50" x2="177.88" y2="273.00" class="mtick"/>
<line x1="188.24" y1="276.50" x2="188.24" y2="273.00" class="mtick"/>
<line x1="195.59" y1="276.50" x2="195.59" y2="273.00" class="mtick"/>
<line x1="201.29" y1="276.50" x2="201.29" y2="273.00" class="mtick"/>
<line x1="205.95" y1="276.50" x2="205.95" y2="273.00" class="mtick"/>
<line x1="209.89" y1="276.50" x2="209.89" y2="273.00" class="mtick"/>
<line x1="213.30" y1="276.50" x2="213.30" y2="273.00" class="mtick"/>
<line x1="216.31" y1="276.50" x2="216.31" y2="273.00" class="mtick"/>
<line x1="219.00" y1="276.50" x2="219.00" y2="269.50" class="tick"/>
<line x1="236.71" y1="276.50" x2="236.71" y2="273.00" class="mtick"/>
<line x1="247.07" y1="276.50" x2="247.07" y2="273.00" class="mtick"/>
<line x1="254.42" y1="276.50" x2="254.42" y2="273.00" class="mtick"/>
<line x1="260.12" y1="276.50" x2="260.12" y2="273.00" class="mtick"/>
<line x1="264.78" y1="276.50" x2="264.78" y2="273.00" class="mtick"/>
<line x1="268.72" y1="276.50" x2="268.72" y2="273.00" class="mtick"/>
<line x1="272.13" y1="276.50" x2="272.13" y2="273.00" class="mtick"/>
<line x1="275.14" y1="276.50" x2="275.14" y2="273.00" class="mtick"/>
<line x1="277.83" y1="276.50" x2="277.83" y2="269.50" class="tick"/>
<line x1="295.54" y1="276.50" x2="295.54" y2="273.00" class="mtick"/>
<line x1="305.90" y1="276.50" x2="305.90" y2="273.00" class="mtick"/>
<line x1="313.25" y1="276.50" x2="313.25" y2="273.00" class="mtick"/>
<line x1="318.96" y1="276.50" x2="318.96" y2="273.00" class="mtick"/>
<line x1="323.61" y1="276.50" x2="323.61" y2="273.00" class="mtick"/>
<line x1="327.55" y1="276.50" x2="327.55" y2="273.00" class="mtick"/>
<line x1="330.97" y1="276.50" x2="330.97" y2="273.00" class="mtick"/>
<line x1="333.97" y1="276.50" x2="333.97" y2="273.00" class="mtick"/>
<line x1="336.67" y1="276.50" x2="336.67" y2="269.50" class="tick"/>
<line x1="354.38" y1="276.50" x2="354.38" y2="273.00" class="mtick"/>
<line x1="364.74" y1="276.50" x2="364.74" y2="273.00" class="mtick"/>
<line x1="372.09" y1="276.50" x2="372.09" y2="273.00" class="mtick"/>
<line x1="377.79" y1="276.50" x2="377.79" y2="273.00" class="mtick"/>
<line x1="382.45" y1="276.50" x2="382.45" y2="273.00" class="mtick"/>
<line x1="386.39" y1="276.50" x2="386.39" y2="273.00" class="mtick"/>
<line x1="389.80" y1="276.50" x2="389.80" y2="273.00" class="mtick"/>
<line x1="392.81" y1="276.50" x2="392.81" y2="273.00" class="mtick"/>
<line x1="395.50" y1="276.50" x2="395.50" y2="269.50" class="tick"/>
<line x1="429.90" y1="276.40" x2="784.10" y2="276.40" class="bspine"/>
<line x1="430.50" y1="276.50" x2="430.50" y2="269.50" class="tick"/>
<line x1="448.21" y1="276.50" x2="448.21" y2="273.00" class="mtick"/>
<line x1="458.57" y1="276.50" x2="458.57" y2="273.00" class="mtick"/>
<line x1="465.92" y1="276.50" x2="465.92" y2="273.00" class="mtick"/>
<line x1="471.62" y1="276.50" x2="471.62" y2="273.00" class="mtick"/>
<line x1="476.28" y1="276.50" x2="476.28" y2="273.00" class="mtick"/>
<line x1="480.22" y1="276.50" x2="480.22" y2="273.00" class="mtick"/>
<line x1="483.63" y1="276.50" x2="483.63" y2="273.00" class="mtick"/>
<line x1="486.64" y1="276.50" x2="486.64" y2="273.00" class="mtick"/>
<line x1="489.33" y1="276.50" x2="489.33" y2="269.50" class="tick"/>
<line x1="507.04" y1="276.50" x2="507.04" y2="273.00" class="mtick"/>
<line x1="517.40" y1="276.50" x2="517.40" y2="273.00" class="mtick"/>
<line x1="524.75" y1="276.50" x2="524.75" y2="273.00" class="mtick"/>
<line x1="530.46" y1="276.50" x2="530.46" y2="273.00" class="mtick"/>
<line x1="535.11" y1="276.50" x2="535.11" y2="273.00" class="mtick"/>
<line x1="539.05" y1="276.50" x2="539.05" y2="273.00" class="mtick"/>
<line x1="542.47" y1="276.50" x2="542.47" y2="273.00" class="mtick"/>
<line x1="545.47" y1="276.50" x2="545.47" y2="273.00" class="mtick"/>
<line x1="548.17" y1="276.50" x2="548.17" y2="269.50" class="tick"/>
<line x1="565.88" y1="276.50" x2="565.88" y2="273.00" class="mtick"/>
<line x1="576.24" y1="276.50" x2="576.24" y2="273.00" class="mtick"/>
<line x1="583.59" y1="276.50" x2="583.59" y2="273.00" class="mtick"/>
<line x1="589.29" y1="276.50" x2="589.29" y2="273.00" class="mtick"/>
<line x1="593.95" y1="276.50" x2="593.95" y2="273.00" class="mtick"/>
<line x1="597.89" y1="276.50" x2="597.89" y2="273.00" class="mtick"/>
<line x1="601.30" y1="276.50" x2="601.30" y2="273.00" class="mtick"/>
<line x1="604.31" y1="276.50" x2="604.31" y2="273.00" class="mtick"/>
<line x1="607.00" y1="276.50" x2="607.00" y2="269.50" class="tick"/>
<line x1="624.71" y1="276.50" x2="624.71" y2="273.00" class="mtick"/>
<line x1="635.07" y1="276.50" x2="635.07" y2="273.00" class="mtick"/>
<line x1="642.42" y1="276.50" x2="642.42" y2="273.00" class="mtick"/>
<line x1="648.12" y1="276.50" x2="648.12" y2="273.00" class="mtick"/>
<line x1="652.78" y1="276.50" x2="652.78" y2="273.00" class="mtick"/>
<line x1="656.72" y1="276.50" x2="656.72" y2="273.00" class="mtick"/>
<line x1="660.13" y1="276.50" x2="660.13" y2="273.00" class="mtick"/>
<line x1="663.14" y1="276.50" x2="663.14" y2="273.00" class="mtick"/>
<line x1="665.83" y1="276.50" x2="665.83" y2="269.50" class="tick"/>
<line x1="683.54" y1="276.50" x2="683.54" y2="273.00" class="mtick"/>
<line x1="693.90" y1="276.50" x2="693.90" y2="273.00" class="mtick"/>
<line x1="701.25" y1="276.50" x2="701.25" y2="273.00" class="mtick"/>
<line x1="706.96" y1="276.50" x2="706.96" y2="273.00" class="mtick"/>
<line x1="711.61" y1="276.50" x2="711.61" y2="273.00" class="mtick"/>
<line x1="715.55" y1="276.50" x2="715.55" y2="273.00" class="mtick"/>
<line x1="718.97" y1="276.50" x2="718.97" y2="273.00" class="mtick"/>
<line x1="721.97" y1="276.50" x2="721.97" y2="273.00" class="mtick"/>
<line x1="724.67" y1="276.50" x2="724.67" y2="269.50" class="tick"/>
<line x1="742.38" y1="276.50" x2="742.38" y2="273.00" class="mtick"/>
<line x1="752.74" y1="276.50" x2="752.74" y2="273.00" class="mtick"/>
<line x1="760.09" y1="276.50" x2="760.09" y2="273.00" class="mtick"/>
<line x1="765.79" y1="276.50" x2="765.79" y2="273.00" class="mtick"/>
<line x1="770.45" y1="276.50" x2="770.45" y2="273.00" class="mtick"/>
<line x1="774.39" y1="276.50" x2="774.39" y2="273.00" class="mtick"/>
<line x1="777.80" y1="276.50" x2="777.80" y2="273.00" class="mtick"/>
<line x1="780.81" y1="276.50" x2="780.81" y2="273.00" class="mtick"/>
<line x1="783.50" y1="276.50" x2="783.50" y2="269.50" class="tick"/>
<rect x="320" y="45.5" width="70" height="100.8" rx="1.5" fill="#fcfcfc" stroke="#f2f2f2" stroke-width="0.6"/>
<line x1="327" y1="53.3" x2="362.7" y2="53.3" stroke="#3a7bd0" stroke-width="1.9"/>
<text x="374.3" y="56.8" class="lg">g</text>
<line x1="327" y1="67.6" x2="362.7" y2="67.6" stroke="#e6772e" stroke-width="1.9" stroke-dasharray="5.6 2"/>
<text x="374.3" y="71.1" class="lg">d</text>
<line x1="327" y1="82.0" x2="362.7" y2="82.0" stroke="#3ab22a" stroke-width="1.9" stroke-dasharray="7.8 3.7"/>
<text x="374.3" y="85.5" class="lg">u</text>
<line x1="327" y1="96.3" x2="362.7" y2="96.3" stroke="#efa160" stroke-width="1.9" stroke-dasharray="1.9 1.8"/>
<text x="374.3" y="99.8" class="lg">d</text>
<line x1="376.2" y1="91.4" x2="380.4" y2="91.4" stroke="#262626" stroke-width="0.8"/>
<line x1="327" y1="110.7" x2="362.7" y2="110.7" stroke="#7ee35a" stroke-width="1.9" stroke-dasharray="3.9 3.6"/>
<text x="374.3" y="114.2" class="lg">u</text>
<line x1="376.2" y1="107.4" x2="380.4" y2="107.4" stroke="#262626" stroke-width="0.8"/>
<line x1="327" y1="125.0" x2="362.7" y2="125.0" stroke="#cc1a1a" stroke-width="1.9" stroke-dasharray="7.6 1.5 3.9 7.8 1.9 3.7"/>
<text x="374.3" y="128.5" class="lg">s</text>
<text x="379.2" y="125.9" class="lsup">+</text>
<line x1="327" y1="139.4" x2="362.7" y2="139.4" stroke="#8455e0" stroke-width="1.9" stroke-dasharray="3.8 1.9 1.9 3.6 1.9 1.9"/>
<text x="374.3" y="142.9" class="lg">c</text>
<text x="379.2" y="140.3" class="lsup">+</text>
<text x="43.40" y="292.8" class="tl" text-anchor="middle">10<tspan dx="0.9" dy="-4.3" class="sup" letter-spacing="0.7">−6</tspan></text>
<text x="102.23" y="292.8" class="tl" text-anchor="middle">10<tspan dx="0.9" dy="-4.3" class="sup" letter-spacing="0.7">−5</tspan></text>
<text x="161.07" y="292.8" class="tl" text-anchor="middle">10<tspan dx="0.9" dy="-4.3" class="sup" letter-spacing="0.7">−4</tspan></text>
<text x="219.90" y="292.8" class="tl" text-anchor="middle">10<tspan dx="0.9" dy="-4.3" class="sup" letter-spacing="0.7">−3</tspan></text>
<text x="278.73" y="292.8" class="tl" text-anchor="middle">10<tspan dx="0.9" dy="-4.3" class="sup" letter-spacing="0.7">−2</tspan></text>
<text x="337.57" y="292.8" class="tl" text-anchor="middle">10<tspan dx="0.9" dy="-4.3" class="sup" letter-spacing="0.7">−1</tspan></text>
<text x="395.90" y="292.8" class="tl" text-anchor="middle">10<tspan dx="1.6" dy="-4.3" class="sup">0</tspan></text>
<text x="431.40" y="292.8" class="tl" text-anchor="middle">10<tspan dx="0.9" dy="-4.3" class="sup" letter-spacing="0.7">−6</tspan></text>
<text x="490.23" y="292.8" class="tl" text-anchor="middle">10<tspan dx="0.9" dy="-4.3" class="sup" letter-spacing="0.7">−5</tspan></text>
<text x="549.07" y="292.8" class="tl" text-anchor="middle">10<tspan dx="0.9" dy="-4.3" class="sup" letter-spacing="0.7">−4</tspan></text>
<text x="607.90" y="292.8" class="tl" text-anchor="middle">10<tspan dx="0.9" dy="-4.3" class="sup" letter-spacing="0.7">−3</tspan></text>
<text x="666.73" y="292.8" class="tl" text-anchor="middle">10<tspan dx="0.9" dy="-4.3" class="sup" letter-spacing="0.7">−2</tspan></text>
<text x="725.57" y="292.8" class="tl" text-anchor="middle">10<tspan dx="0.9" dy="-4.3" class="sup" letter-spacing="0.7">−1</tspan></text>
<text x="783.90" y="292.8" class="tl" text-anchor="middle">10<tspan dx="1.6" dy="-4.3" class="sup">0</tspan></text>
<text x="35.10" y="280.30" class="tl" text-anchor="end">0</text>
<text x="35.10" y="221.30" class="tl" text-anchor="end">5</text>
<text x="35.10" y="162.30" class="tl" text-anchor="end">10</text>
<text x="35.10" y="103.30" class="tl" text-anchor="end">15</text>
<text x="35.10" y="44.30" class="tl" text-anchor="end">20</text>
<text x="423.10" y="280.30" class="tl" text-anchor="end">0</text>
<text x="423.10" y="233.10" class="tl" text-anchor="end">2</text>
<text x="423.10" y="185.90" class="tl" text-anchor="end">4</text>
<text x="423.10" y="138.70" class="tl" text-anchor="end">6</text>
<text x="423.10" y="91.50" class="tl" text-anchor="end">8</text>
<text x="423.10" y="44.30" class="tl" text-anchor="end">10</text>
<text x="406" y="11.6" class="title" text-anchor="middle" textLength="308" lengthAdjust="spacingAndGlyphs">NNPDF3.1sx NNLO, DIS-only vs global fit</text>
<text x="219.4" y="34.7" class="sub" text-anchor="middle" textLength="89.4" lengthAdjust="spacingAndGlyphs">Central Value</text>
<text x="607.2" y="34.7" class="sub" text-anchor="middle" textLength="75" lengthAdjust="spacingAndGlyphs">Uncertainty</text>
<text x="702.6" y="64.1" class="tl" textLength="75.7" lengthAdjust="spacingAndGlyphs"><tspan font-style="italic">Q</tspan> = 100 GeV</text>
<text x="219.4" y="309.6" class="axx" text-anchor="middle">x</text>
<text x="607.9" y="309.6" class="axx" text-anchor="middle">x</text>
<text transform="translate(9.6,158.4) rotate(-90)" class="ax" text-anchor="middle" textLength="38.8" lengthAdjust="spacingAndGlyphs">d<tspan font-style="normal">[</tspan>x<tspan font-style="normal">, </tspan>Q<tspan font-style="normal">]</tspan></text>
</svg>
</body></html>
